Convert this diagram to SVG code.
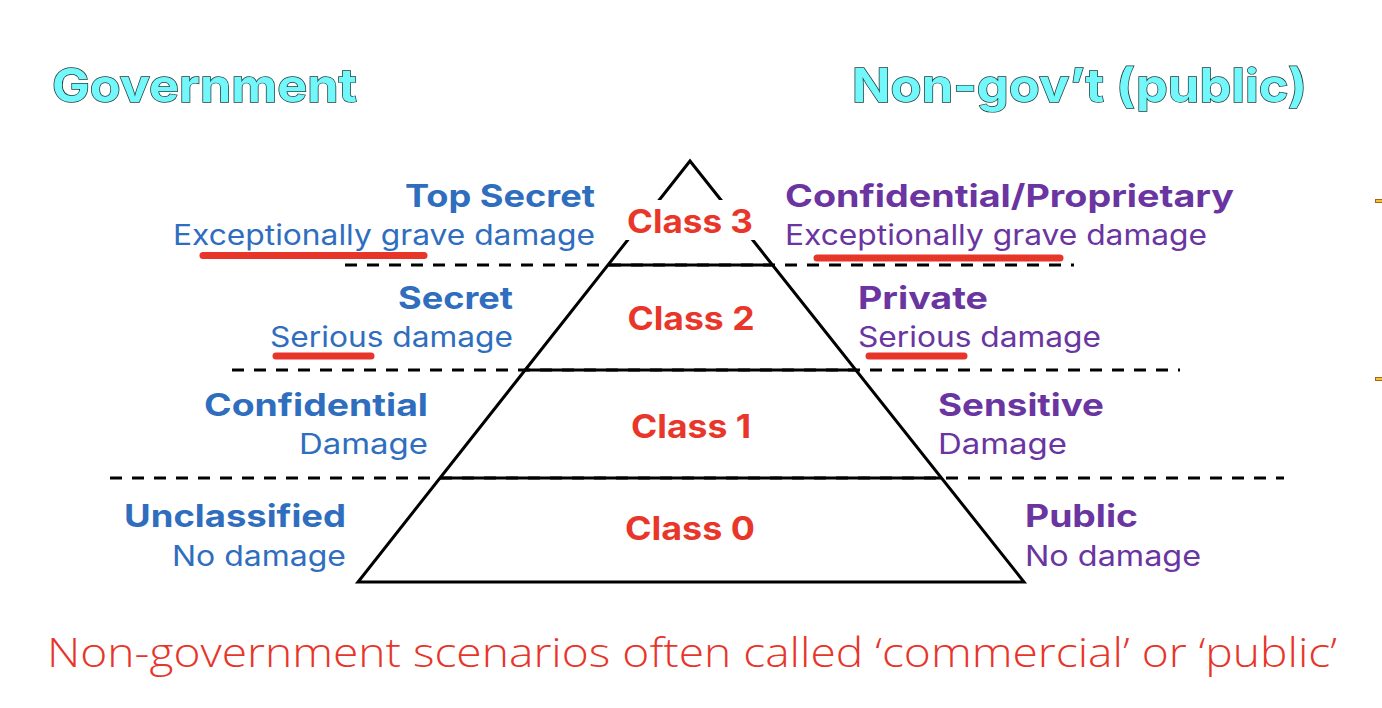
<svg xmlns="http://www.w3.org/2000/svg" width="1382" height="708" viewBox="0 0 1382 708">
<style>
.title{font-family:Inter,"Open Sans","Liberation Sans",sans-serif;font-weight:700;font-size:46px;fill:#72F8FB;stroke:#1E3434;stroke-width:1.4;paint-order:stroke}
.gh{font-family:Inter,"Open Sans","Liberation Sans",sans-serif;font-weight:700;font-size:31px;fill:#2F6EBE}
.gs{font-family:Inter,"Open Sans","Liberation Sans",sans-serif;font-weight:400;font-size:28px;fill:#2F6EBE}
.ph{font-family:Inter,"Open Sans","Liberation Sans",sans-serif;font-weight:700;font-size:31px;fill:#6A35A0}
.ps{font-family:Inter,"Open Sans","Liberation Sans",sans-serif;font-weight:400;font-size:28px;fill:#6A35A0}
.cls{font-family:Inter,"Open Sans","Liberation Sans",sans-serif;font-weight:700;font-size:32px;fill:#E8372A;text-anchor:middle}
.ul{stroke:#E8352A;stroke-width:7;stroke-linecap:round;fill:none}
.solid{stroke:#000;stroke-width:3;fill:none}
.dash{stroke:#000;stroke-width:3;stroke-dasharray:12 10;fill:none}
.note{font-family:"Open Sans","DejaVu Sans","Liberation Sans",sans-serif;font-weight:300;font-size:40px;fill:#E8352A}
.mark{fill:#F4C430;stroke:#A8641C;stroke-width:1}
</style>
<rect width="1382" height="708" fill="#fff"/>

<g id="connectors">
  <line class="dash" x1="345" y1="265" x2="1074" y2="265"/>
  <line class="dash" x1="232" y1="370" x2="1180" y2="370"/>
  <line class="dash" x1="110" y1="478" x2="1284" y2="478"/>
  <polygon class="solid" points="690,161 358,582 1024,582"/>
  <line class="solid" x1="608" y1="265" x2="772" y2="265"/>
  <line class="solid" x1="525" y1="370" x2="856" y2="370"/>
  <line class="solid" x1="440" y1="478" x2="941" y2="478"/>
</g>

<g id="title-government"><text class="title" x="52" y="102" textLength="305" lengthAdjust="spacingAndGlyphs">Government</text></g>
<g id="title-nongov"><text class="title" x="852" y="102" textLength="455" lengthAdjust="spacingAndGlyphs">Non-gov’t (public)</text></g>

<g id="class3">
  <rect x="617" y="200" width="146" height="40" fill="#fff"/>
  <text class="cls" x="690" y="233" textLength="126" lengthAdjust="spacingAndGlyphs">Class 3</text>
</g>
<g id="class2"><text class="cls" x="691" y="330" textLength="127" lengthAdjust="spacingAndGlyphs">Class 2</text></g>
<g id="class1"><text class="cls" x="691" y="438" textLength="120" lengthAdjust="spacingAndGlyphs">Class 1</text></g>
<g id="class0"><text class="cls" x="690" y="540" textLength="130" lengthAdjust="spacingAndGlyphs">Class 0</text></g>

<g id="gov-top-secret">
  <text class="gh" x="405" y="207" textLength="190" lengthAdjust="spacingAndGlyphs">Top Secret</text>
  <text class="gs" x="173" y="245" textLength="422" lengthAdjust="spacingAndGlyphs">Exceptionally grave damage</text>
  <line class="ul" x1="203" y1="255.5" x2="424" y2="255.5"/>
</g>
<g id="gov-secret">
  <text class="gh" x="398" y="309" textLength="115" lengthAdjust="spacingAndGlyphs">Secret</text>
  <text class="gs" x="270" y="347" textLength="243" lengthAdjust="spacingAndGlyphs">Serious damage</text>
  <line class="ul" x1="276" y1="356" x2="371" y2="356"/>
</g>
<g id="gov-confidential">
  <text class="gh" x="204" y="416" textLength="224" lengthAdjust="spacingAndGlyphs">Confidential</text>
  <text class="gs" x="299" y="454" textLength="129" lengthAdjust="spacingAndGlyphs">Damage</text>
</g>
<g id="gov-unclassified">
  <text class="gh" x="124" y="527" textLength="222" lengthAdjust="spacingAndGlyphs">Unclassified</text>
  <text class="gs" x="172" y="566" textLength="174" lengthAdjust="spacingAndGlyphs">No damage</text>
</g>

<g id="pub-confidential-proprietary">
  <text class="ph" x="785" y="207" textLength="449" lengthAdjust="spacingAndGlyphs">Confidential/Proprietary</text>
  <text class="ps" x="785" y="245" textLength="422" lengthAdjust="spacingAndGlyphs">Exceptionally grave damage</text>
  <line class="ul" x1="817" y1="258" x2="1060" y2="258"/>
</g>
<g id="pub-private">
  <text class="ph" x="858" y="309" textLength="130" lengthAdjust="spacingAndGlyphs">Private</text>
  <text class="ps" x="858" y="347" textLength="243" lengthAdjust="spacingAndGlyphs">Serious damage</text>
  <line class="ul" x1="869" y1="356" x2="964" y2="356"/>
</g>
<g id="pub-sensitive">
  <text class="ph" x="938" y="416" textLength="166" lengthAdjust="spacingAndGlyphs">Sensitive</text>
  <text class="ps" x="938" y="454" textLength="129" lengthAdjust="spacingAndGlyphs">Damage</text>
</g>
<g id="pub-public">
  <text class="ph" x="1025" y="527" textLength="113" lengthAdjust="spacingAndGlyphs">Public</text>
  <text class="ps" x="1025" y="566" textLength="176" lengthAdjust="spacingAndGlyphs">No damage</text>
</g>

<g id="note">
  <text class="note" x="47" y="667" textLength="1290" lengthAdjust="spacingAndGlyphs">Non-government scenarios often called ‘commercial’ or ‘public’</text>
</g>

<g id="edge-marks">
  <rect class="mark" x="1375.5" y="199.5" width="7" height="3"/>
  <rect class="mark" x="1375.5" y="377.5" width="7" height="3"/>
</g>
</svg>
